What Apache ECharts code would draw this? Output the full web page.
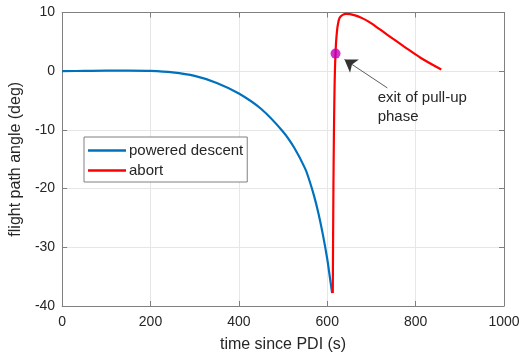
<!DOCTYPE html>
<html><head><meta charset="utf-8">
<script src="https://cdn.jsdelivr.net/npm/echarts@6/dist/echarts.min.js"></script>
<style>html,body{margin:0;padding:0;background:#fff}#c{width:524px;height:358px}</style>
</head><body><div id="c"></div>
<script>
// time since PDI (s) and flight path angle (deg)
const descentT = [0, 50, 100, 150, 200, 250, 300, 350, 400, 450, 500, 525, 550, 560, 570, 580, 590, 600, 605, 611];
const descentG = [0, 0.05, 0.1, 0.1, 0.05, -0.2, -0.8, -2.0, -3.8, -6.4, -10.3, -13.0, -16.6, -18.7, -21.2, -24.2, -27.8, -32.0, -34.6, -37.8];
const abortT = [612.5, 613.5, 614.5, 615.5, 616.5, 617.5, 618.7, 620, 622, 624, 628, 635, 643, 661, 680, 699, 736, 774, 811, 858];
const abortG = [-37.8, -25, -15, -8, -3, 0.5, 3.0, 5.0, 6.8, 7.9, 9.1, 9.6, 9.75, 9.55, 9.0, 8.2, 6.2, 4.2, 2.3, 0.3];
const exitPoint = [618.7, 3.0];
const arrowFrom = [736, -2.85];
const arrowTo = [639, 2.0];
const notePos = [714, -2.94];
const noteText = 'exit of pull-up\nphase';
const xTicks = [0, 200, 400, 600, 800, 1000];
const yTicks = [-40, -30, -20, -10, 0, 10];

const pair = (a, b) => a.map((v, i) => [v, b[i]]);
const chart = echarts.init(document.getElementById('c'));
const FONT = '"Liberation Sans", Arial, sans-serif';
const axisCommon = {
  axisLine: {show: true, onZero: false, lineStyle: {color: '#808080', width: 1}},
  axisTick: {show: true, inside: true, length: 5, lineStyle: {color: '#808080'}},
};
chart.setOption({
  animation: false,
  grid: {left: 59, right: 20, top: 12.5, bottom: 52, containLabel: false},
  textStyle: {fontFamily: FONT},
  legend: {
    data: ['powered descent', 'abort'],
    orient: 'vertical', left: 84, top: 137, icon: 'rect',
    padding: [6, 4, 4, 4], itemGap: 5, itemWidth: 38, itemHeight: 2.5,
    borderColor: '#808080', borderWidth: 1, borderRadius: 0, backgroundColor: '#fff',
    textStyle: {fontSize: 15, color: '#262626', fontFamily: FONT, padding: [0, 0, 0, -2]}
  },
  xAxis: [{
    type: 'value', min: xTicks[0], max: xTicks[xTicks.length - 1], interval: 200,
    name: 'time since PDI (s)', nameLocation: 'middle', nameGap: 31,
    nameTextStyle: {fontSize: 16, color: '#262626', fontFamily: FONT},
    axisLabel: {fontSize: 14, color: '#262626', margin: 9, fontFamily: FONT, formatter: v => String(v)},
    splitLine: {show: true, lineStyle: {color: '#e6e6e6', width: 1}},
    ...axisCommon
  }, {
    type: 'value', position: 'top', min: 0, max: 1000, interval: 200,
    axisLabel: {show: false}, splitLine: {show: false}, ...axisCommon
  }],
  yAxis: [{
    type: 'value', min: yTicks[0], max: yTicks[yTicks.length - 1], interval: 10,
    name: 'flight path angle (deg)', nameLocation: 'middle', nameGap: 34,
    nameTextStyle: {fontSize: 16, color: '#262626', fontFamily: FONT},
    axisLabel: {fontSize: 14, color: '#262626', margin: 7, fontFamily: FONT},
    splitLine: {show: true, lineStyle: {color: '#e6e6e6', width: 1}},
    ...axisCommon
  }, {
    type: 'value', position: 'right', min: -40, max: 10, interval: 10,
    axisLabel: {show: false}, splitLine: {show: false}, ...axisCommon
  }],
  series: [{
    name: 'powered descent', type: 'line', symbol: 'none', smooth: 0.35,
    data: pair(descentT, descentG),
    lineStyle: {color: '#0072BD', width: 2.2}, itemStyle: {color: '#0072BD'}, z: 2
  }, {
    name: 'abort', type: 'line', symbol: 'none', smooth: 0.35,
    data: pair(abortT, abortG),
    lineStyle: {color: '#FF0000', width: 2.2}, itemStyle: {color: '#FF0000'}, z: 3
  }, {
    type: 'scatter', symbol: 'circle', symbolSize: 10,
    data: [exitPoint], itemStyle: {color: '#BF00BF'}, z: 5,
    markLine: {
      silent: true, symbol: ['none', 'arrow'], symbolSize: 12,
      label: {show: false}, emphasis: {disabled: true},
      lineStyle: {color: '#333', width: 0.8, type: 'solid'},
      itemStyle: {color: '#111'},
      data: [[{coord: arrowFrom}, {coord: arrowTo}]]
    },
    markPoint: {
      silent: true, symbol: 'circle', symbolSize: 0,
      data: [{coord: notePos}],
      label: {show: true, position: 'inside', formatter: noteText, align: 'left', verticalAlign: 'top',
        fontSize: 15, lineHeight: 19, color: '#262626', fontFamily: FONT}
    }
  }]
});
</script></body></html>
